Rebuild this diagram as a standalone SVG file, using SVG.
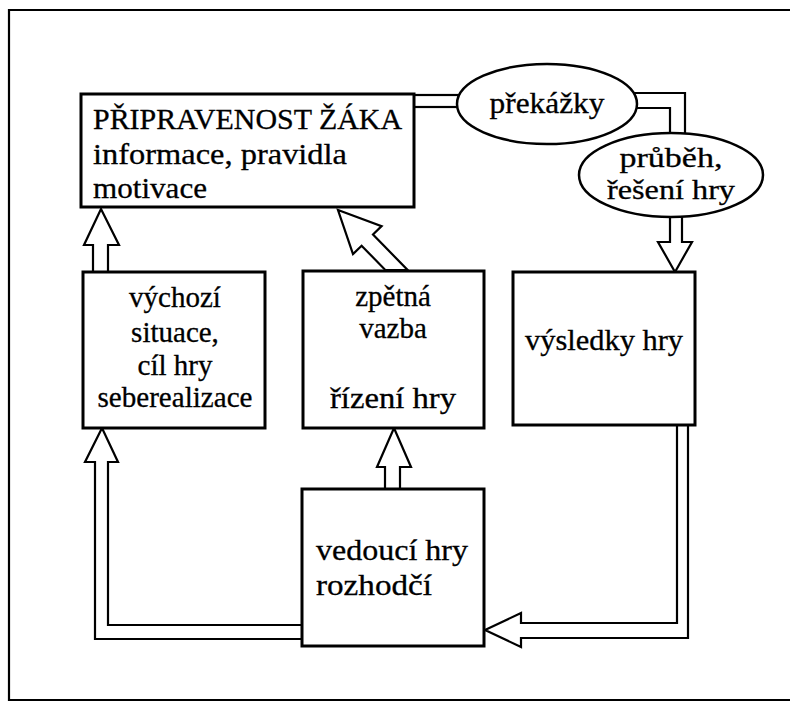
<svg xmlns="http://www.w3.org/2000/svg" width="790" height="702" viewBox="0 0 790 702">
<style>
.frame{fill:none;stroke:#000;stroke-width:2.2}
.box{fill:#fff;stroke:#000;stroke-width:3}
.ell{fill:#fff;stroke:#000;stroke-width:2.5}
.conn{fill:#fff;stroke:#000;stroke-width:2.2;stroke-linejoin:miter}
text{font-family:"Liberation Serif","Times New Roman",serif;font-size:29px;fill:#000;stroke:#000;stroke-width:0.3}
.c{text-anchor:middle}
.s{font-size:28px}
</style>
<rect width="790" height="702" fill="#fff"/>
<path class="frame" d="M790,10 H9 V700 H790"/>
<g id="connectors">
  <rect class="conn" x="405" y="95" width="65" height="12"/>
  <polygon class="conn" points="625,93 685,93 685,150 670,150 670,108 625,108"/>
  <polygon class="conn" points="670,205 670,242 658,242 675,272 692,242 682,242 682,205"/>
  <polygon class="conn" points="93,285 93,245 84,245 101,209 119,245 108,245 108,285"/>
  <polygon class="conn" points="338,210 381.6,226.1 373,234.5 407.6,270 385.3,270 361.6,245.7 353,254.1"/>
  <polygon class="conn" points="385,500 385,467 377,467 394,428 411,467 400,467 400,500"/>
  <polygon class="conn" points="310,625 108,625 108,462 118,462 102,428 85,462 95,462 95,639 310,639"/>
  <polygon class="conn" points="677,415 677,623 521,623 521,613 485,630 521,647 521,638 688,638 688,415"/>
</g>
<g id="pripravenost">
  <rect class="box" x="81" y="94" width="333" height="113"/>
  <text x="93" y="129" textLength="309" lengthAdjust="spacingAndGlyphs">PŘIPRAVENOST ŽÁKA</text>
  <text x="93" y="164" textLength="254" lengthAdjust="spacingAndGlyphs">informace, pravidla</text>
  <text x="93" y="198" textLength="114" lengthAdjust="spacingAndGlyphs">motivace</text>
</g>
<g id="prekazky">
  <ellipse class="ell" cx="547" cy="104" rx="90" ry="40"/>
  <text class="c" x="547" y="113" textLength="115" lengthAdjust="spacingAndGlyphs">překážky</text>
</g>
<g id="prubeh">
  <ellipse class="ell" cx="671" cy="175" rx="92" ry="42"/>
  <text class="c s" x="671" y="167" textLength="103" lengthAdjust="spacingAndGlyphs">průběh,</text>
  <text class="c s" x="671" y="199" textLength="128" lengthAdjust="spacingAndGlyphs">řešení hry</text>
</g>
<g id="vychozi">
  <rect class="box" x="83" y="272" width="182" height="156"/>
  <text class="c" x="175" y="307">výchozí</text>
  <text class="c" x="175" y="342">situace,</text>
  <text class="c" x="175" y="375">cíl hry</text>
  <text class="c" x="175" y="407" textLength="155" lengthAdjust="spacingAndGlyphs">seberealizace</text>
</g>
<g id="zpetna">
  <rect class="box" x="303" y="271" width="181" height="157"/>
  <text class="c" x="393" y="306">zpětná</text>
  <text class="c" x="393" y="338">vazba</text>
  <text class="c" x="393" y="408" textLength="126" lengthAdjust="spacingAndGlyphs">řízení hry</text>
</g>
<g id="vysledky">
  <rect class="box" x="513" y="272" width="182" height="153"/>
  <text class="c" x="604" y="350" textLength="158" lengthAdjust="spacingAndGlyphs">výsledky hry</text>
</g>
<g id="vedouci">
  <rect class="box" x="302" y="489" width="182" height="157"/>
  <text x="316" y="560" textLength="152" lengthAdjust="spacingAndGlyphs">vedoucí hry</text>
  <text x="316" y="595" textLength="116" lengthAdjust="spacingAndGlyphs">rozhodčí</text>
</g>
</svg>
